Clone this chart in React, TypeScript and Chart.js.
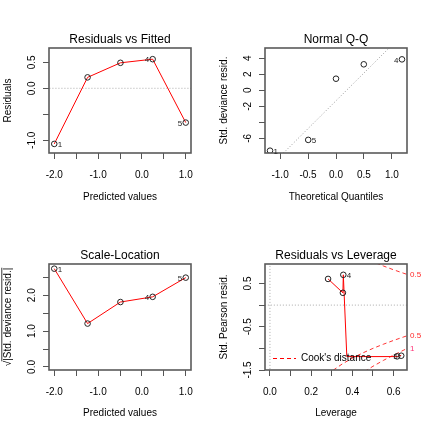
import React, { useEffect, useRef } from 'react';
import { Chart, registerables } from 'chart.js';

Chart.register(...registerables);

const FONT = "'Liberation Sans', Arial, Helvetica, sans-serif";

// ---------- data ----------
const obsIds = ['1', '2', '3', '4', '5'];

// Residuals vs Fitted
const fittedValues = [-2.0, -1.24, -0.49, 0.245, 1.0];
const residualValues = [-1.07, 0.21, 0.49, 0.56, -0.66];
const residSmoothY = [-1.07, 0.21, 0.49, 0.56, -0.66];

// Normal Q-Q
const qqTheoretical = [-1.18, -0.497, 0.0, 0.497, 1.18];
const qqStdDevResid = [-7.55, -6.2, 1.45, 3.25, 3.87];
const qqIds = ['1', '5', '2', '3', '4'];
const qqLineX = [-1.4, 1.4];
const qqLineY = [-11.04, 8.42];

// Scale-Location
const sqrtAbsStdResid = [2.74, 1.21, 1.81, 1.955, 2.49];
const scaleSmoothY = [2.74, 1.21, 1.81, 1.955, 2.49];

// Residuals vs Leverage
const leverageValues = [0.617, 0.354, 0.282, 0.356, 0.637];
const stdPearsonResid = [-1.185, 0.284, 0.605, 0.7, -1.17];
const levSmoothX = [0.282, 0.354, 0.356, 0.373, 0.617, 0.637];
const levSmoothY = [0.605, 0.284, 0.7, -1.19, -1.19, -1.16];
const cookH = [0.28, 0.3, 0.35, 0.4, 0.45, 0.5, 0.55, 0.6, 0.65, 0.7];
const cookUpper05 = [1.604, 1.528, 1.363, 1.225, 1.106, 1.0, 0.905, 0.816, 0.734, 0.655];
const cookLower05 = [-1.604, -1.528, -1.363, -1.225, -1.106, -1.0, -0.905, -0.816, -0.734, -0.655];
const cookUpper1 = [2.268, 2.16, 1.927, 1.732, 1.563, 1.414, 1.279, 1.155, 1.038, 0.926];
const cookLower1 = [-2.268, -2.16, -1.927, -1.732, -1.563, -1.414, -1.279, -1.155, -1.038, -0.926];
const cookLabelTexts = ['0.5', '0.5', '1'];
const cookLabelY = [0.71, -0.71, -1.0];

// ticks
const fitTicks = [-2, -1.5, -1, -0.5, 0, 0.5, 1];
const fitTickLabels = ['-2.0', '', '-1.0', '', '0.0', '', '1.0'];
const resTicks = [-1, -0.5, 0, 0.5];
const resTickLabels = ['-1.0', '', '0.0', '0.5'];
const qqXTicks = [-1, -0.5, 0, 0.5, 1];
const qqXTickLabels = ['-1.0', '-0.5', '0.0', '0.5', '1.0'];
const qqYTicks = [-6, -4, -2, 0, 2, 4];
const qqYTickLabels = ['-6', '', '-2', '0', '2', '4'];
const slYTicks = [0, 0.5, 1, 1.5, 2, 2.5];
const slYTickLabels = ['0.0', '', '1.0', '', '2.0', ''];
const levXTicks = [0, 0.1, 0.2, 0.3, 0.4, 0.5, 0.6];
const levXTickLabels = ['0.0', '', '0.2', '', '0.4', '', '0.6'];
const levYTicks = [-1.5, -1, -0.5, 0, 0.5];
const levYTickLabels = ['-1.5', '', '-0.5', '', '0.5'];

// ---------- helpers ----------
const pts = (xs: number[], ys: number[]) => xs.map((x, i) => ({ x, y: ys[i] }));

function axis(
  isY: boolean,
  min: number,
  max: number,
  ticks: number[],
  labels: string[],
  title: string,
  size: number,
  tickPad: number
): any {
  return {
    type: 'linear',
    min,
    max,
    afterBuildTicks: (s: any) => {
      s.ticks = ticks.map((v) => ({ value: v }));
    },
    afterFit: (s: any) => {
      if (isY) s.width = size;
      else s.height = size;
    },
    grid: {
      display: true,
      drawOnChartArea: false,
      drawTicks: true,
      tickLength: 6,
      color: '#555555',
      lineWidth: 1,
    },
    border: { display: false },
    ticks: {
      autoSkip: false,
      color: '#000000',
      font: { family: FONT, size: 10 },
      padding: tickPad,
      callback: (v: any) => {
        const i = ticks.indexOf(Number(v));
        return i >= 0 ? labels[i] : '';
      },
      ...(isY ? { minRotation: 90, maxRotation: 90, crossAlign: 'center' } : { minRotation: 0, maxRotation: 0 }),
    },
    title: {
      display: true,
      text: title,
      color: '#000000',
      font: { family: FONT, size: 10 },
      padding: isY ? { top: 2.5, bottom: 0 } : { top: 0, bottom: 13 },
    },
  };
}

type Label = { x: number; y: number; text: string; side: 'left' | 'right' };

const decoPlugin = {
  id: 'rdeco',
  afterDraw(chart: any, _args: any, opts: any) {
    const { ctx, chartArea: a } = chart;
    const xs = chart.scales.x;
    const ys = chart.scales.y;
    ctx.save();
    // box
    ctx.strokeStyle = '#5a5a5a';
    ctx.lineWidth = 1.6;
    ctx.strokeRect(a.left, a.top, a.right - a.left, a.bottom - a.top);
    // title
    ctx.fillStyle = '#000000';
    ctx.font = `12px ${FONT}`;
    ctx.textAlign = 'center';
    ctx.textBaseline = 'middle';
    ctx.fillText(opts.title, (a.left + a.right) / 2, 40);
    // overline for the square-root y-axis title
    if (opts.sqrtTitle) {
      ctx.font = `10px ${FONT}`;
      const w = ctx.measureText(opts.sqrtTitle).width;
      const rw = ctx.measureText('\u221A').width;
      const cy = (a.top + a.bottom) / 2;
      ctx.strokeStyle = '#000000';
      ctx.lineWidth = 0.8;
      ctx.beginPath();
      ctx.moveTo(1.8, cy + w / 2 - rw + 0.5);
      ctx.lineTo(1.8, cy - w / 2);
      ctx.stroke();
    }
    // point labels
    ctx.font = `8px ${FONT}`;
    ctx.fillStyle = '#222222';
    (opts.labels || []).forEach((l: Label) => {
      const px = xs.getPixelForValue(l.x);
      const py = ys.getPixelForValue(l.y);
      ctx.textAlign = l.side === 'right' ? 'left' : 'right';
      ctx.fillText(l.text, l.side === 'right' ? px + 3.5 : px - 3.5, py + 1);
    });
    // cook labels in right margin
    if (opts.cook) {
      ctx.font = `8px ${FONT}`;
      ctx.textAlign = 'left';
      cookLabelTexts.forEach((t, i) => {
        ctx.fillStyle = t === '1' ? '#ff3377' : '#ff2a2a';
        ctx.fillText(t, a.right + 3, ys.getPixelForValue(cookLabelY[i]));
      });
      // legend
      const ly = a.bottom - 11.5;
      ctx.strokeStyle = '#ff0000';
      ctx.lineWidth = 1;
      ctx.setLineDash([4, 3]);
      ctx.beginPath();
      ctx.moveTo(a.left + 8, ly);
      ctx.lineTo(a.left + 31, ly);
      ctx.stroke();
      ctx.setLineDash([]);
      ctx.fillStyle = '#000000';
      ctx.font = `10px ${FONT}`;
      ctx.textAlign = 'left';
      ctx.fillText("Cook's distance", a.left + 36, ly);
    }
    ctx.restore();
  },
};

const pointDS = (data: any[]) => ({
  data,
  showLine: false,
  pointStyle: 'circle',
  pointRadius: 2.8,
  pointBorderWidth: 1,
  pointBorderColor: '#222222',
  pointBackgroundColor: 'rgba(0,0,0,0)',
  order: 0,
});
const lineDS = (data: any[], color: string, dash: number[] = [], width = 1) => ({
  data,
  showLine: true,
  borderColor: color,
  borderWidth: width,
  borderDash: dash,
  pointRadius: 0,
  tension: 0,
  fill: false,
  order: 1,
});

function baseOptions(xAx: any, yAx: any, deco: any): any {
  return {
    responsive: false,
    animation: false,
    events: [],
    layout: { padding: { top: 48, right: 25, left: 0, bottom: 0 } },
    scales: { x: xAx, y: yAx },
    plugins: {
      legend: { display: false },
      tooltip: { enabled: false },
      title: { display: false },
      rdeco: deco,
    },
  };
}

const sqrtYTitle = '\u221A|Std. deviance resid.|';

const configs: any[] = [
  {
    type: 'scatter',
    data: {
      datasets: [
        pointDS(pts(fittedValues, residualValues)),
        lineDS(pts(fittedValues, residSmoothY), '#ff0000'),
        lineDS(pts([-3, 2], [0, 0]), '#aaaaaa', [1, 2]),
      ],
    },
    options: baseOptions(
      axis(false, -2.12, 1.12, fitTicks, fitTickLabels, 'Predicted values', 63, 10),
      axis(true, -1.245, 0.775, resTicks, resTickLabels, 'Residuals', 49, 2.4),
      {
        title: 'Residuals vs Fitted',
        labels: [
          { x: fittedValues[0], y: residualValues[0], text: obsIds[0], side: 'right' },
          { x: fittedValues[3], y: residualValues[3], text: obsIds[3], side: 'left' },
          { x: fittedValues[4], y: residualValues[4], text: obsIds[4], side: 'left' },
        ],
      }
    ),
  },
  {
    type: 'scatter',
    data: {
      datasets: [
        pointDS(pts(qqTheoretical, qqStdDevResid)),
        lineDS(pts(qqLineX, qqLineY), '#999999', [1, 2]),
      ],
    },
    options: baseOptions(
      axis(false, -1.27, 1.27, qqXTicks, qqXTickLabels, 'Theoretical Quantiles', 63, 10),
      axis(true, -7.84, 5.29, qqYTicks, qqYTickLabels, 'Std. deviance resid.', 49, 6.5),
      {
        title: 'Normal Q-Q',
        labels: [
          { x: qqTheoretical[0], y: qqStdDevResid[0], text: qqIds[0], side: 'right' },
          { x: qqTheoretical[1], y: qqStdDevResid[1], text: qqIds[1], side: 'right' },
          { x: qqTheoretical[4], y: qqStdDevResid[4], text: qqIds[4], side: 'left' },
        ],
      }
    ),
  },
  {
    type: 'scatter',
    data: {
      datasets: [
        pointDS(pts(fittedValues, sqrtAbsStdResid)),
        lineDS(pts(fittedValues, scaleSmoothY), '#ff0000'),
      ],
    },
    options: baseOptions(
      axis(false, -2.12, 1.12, fitTicks, fitTickLabels, 'Predicted values', 62, 10),
      axis(true, -0.084, 2.87, slYTicks, slYTickLabels, sqrtYTitle, 49, 4),
      {
        title: 'Scale-Location',
        sqrtTitle: sqrtYTitle,
        labels: [
          { x: fittedValues[0], y: sqrtAbsStdResid[0], text: obsIds[0], side: 'right' },
          { x: fittedValues[3], y: sqrtAbsStdResid[3], text: obsIds[3], side: 'left' },
          { x: fittedValues[4], y: sqrtAbsStdResid[4], text: obsIds[4], side: 'left' },
        ],
      }
    ),
  },
  {
    type: 'scatter',
    data: {
      datasets: [
        pointDS(pts(leverageValues, stdPearsonResid)),
        lineDS(pts(levSmoothX, levSmoothY), '#ff0000'),
        lineDS(pts(cookH, cookUpper05), '#ff3333', [4, 3]),
        lineDS(pts(cookH, cookLower05), '#ff3333', [4, 3]),
        lineDS(pts(cookH, cookUpper1), '#ff3333', [4, 3]),
        lineDS(pts(cookH, cookLower1), '#ff3333', [4, 3]),
        lineDS(pts([-1, 1], [0, 0]), '#aaaaaa', [1, 2]),
        lineDS(pts([0, 0], [-3, 3]), '#aaaaaa', [1, 2]),
      ],
    },
    options: baseOptions(
      axis(false, -0.024, 0.665, levXTicks, levXTickLabels, 'Leverage', 62, 10),
      axis(true, -1.5, 0.95, levYTicks, levYTickLabels, 'Std. Pearson resid.', 49, 2.4),
      {
        title: 'Residuals vs Leverage',
        cook: true,
        labels: [
          { x: leverageValues[3], y: stdPearsonResid[3], text: obsIds[3], side: 'right' },
          { x: leverageValues[4], y: stdPearsonResid[4], text: obsIds[4], side: 'left' },
        ],
      }
    ),
  },
];

function Panel({ config, left, top }: { config: any; left: number; top: number }) {
  const ref = useRef<HTMLCanvasElement | null>(null);
  useEffect(() => {
    if (!ref.current) return;
    const chart = new Chart(ref.current, { ...config, plugins: [decoPlugin] });
    return () => chart.destroy();
  }, [config]);
  return (
    <div style={{ position: 'absolute', left, top, width: 216, height: 216 }}>
      <canvas ref={ref} width={216} height={216} style={{ width: 216, height: 216, display: 'block' }} />
    </div>
  );
}

export default function App() {
  return (
    <div style={{ position: 'absolute', left: 0, top: 0, width: 432, height: 432, background: '#ffffff' }}>
      <Panel config={configs[0]} left={0} top={0} />
      <Panel config={configs[1]} left={216} top={0} />
      <Panel config={configs[2]} left={0} top={216} />
      <Panel config={configs[3]} left={216} top={216} />
    </div>
  );
}
